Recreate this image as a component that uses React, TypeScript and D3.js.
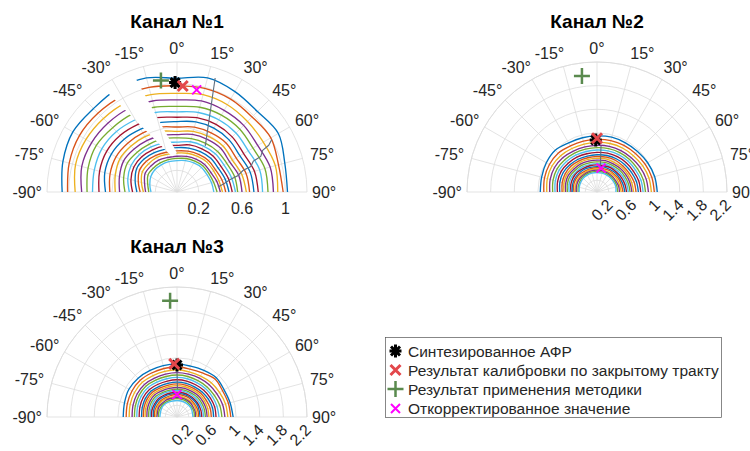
import React from 'react';
import * as d3 from 'd3';

const FONT = '"Liberation Sans", Arial, Helvetica, sans-serif';
const TEXT = '#262626';
const GRID = '#dcdcdc';

const thetaTicks = [-90, -75, -60, -45, -30, -15, 0, 15, 30, 45, 60, 75, 90];
const sampleAngles = [-90, -75, -60, -45, -30, -15, 0, 15, 30, 45, 60, 75, 90];
const lineColors = ['#0072BD', '#D95319', '#EDB120', '#7E2F8E', '#77AC30', '#4DBEEE', '#A2142F'];

const ch1RTicks = [0.2, 0.6, 1.0];
const ch23RTicks = [0.2, 0.6, 1.0, 1.4, 1.8, 2.2];

const ch1Lines = [
  [1.06, 1.09, 1.11, 1.09, 1.10, 1.09, 1.05, 1.09, 1.07, 1.05, 1.08, 1.03, 1.02],
  [1.01, 1.03, 1.04, 1.03, 1.02, 1.00, 0.98, 0.99, 0.99, 0.98, 1.00, 0.97, 0.98],
  [0.94, 0.97, 0.97, 0.96, 0.95, 0.93, 0.91, 0.93, 0.93, 0.92, 0.92, 0.94, 0.93],
  [0.88, 0.91, 0.91, 0.90, 0.89, 0.87, 0.85, 0.87, 0.87, 0.87, 0.86, 0.89, 0.89],
  [0.83, 0.85, 0.86, 0.84, 0.83, 0.81, 0.79, 0.81, 0.82, 0.82, 0.81, 0.84, 0.84],
  [0.78, 0.79, 0.80, 0.79, 0.77, 0.76, 0.74, 0.76, 0.77, 0.77, 0.76, 0.79, 0.79],
  [0.72, 0.74, 0.75, 0.74, 0.72, 0.71, 0.69, 0.71, 0.72, 0.72, 0.71, 0.74, 0.75],
  [0.66, 0.69, 0.70, 0.69, 0.67, 0.66, 0.65, 0.67, 0.68, 0.68, 0.67, 0.70, 0.71],
  [0.62, 0.64, 0.65, 0.64, 0.63, 0.62, 0.60, 0.62, 0.63, 0.64, 0.63, 0.66, 0.67],
  [0.57, 0.59, 0.61, 0.60, 0.59, 0.58, 0.56, 0.58, 0.59, 0.60, 0.59, 0.62, 0.64],
  [0.53, 0.55, 0.57, 0.56, 0.55, 0.54, 0.53, 0.55, 0.56, 0.57, 0.56, 0.59, 0.60],
  [0.48, 0.51, 0.53, 0.52, 0.51, 0.51, 0.50, 0.51, 0.52, 0.53, 0.53, 0.55, 0.56],
  [0.44, 0.47, 0.49, 0.49, 0.48, 0.47, 0.46, 0.48, 0.49, 0.50, 0.50, 0.52, 0.54],
  [0.41, 0.44, 0.46, 0.46, 0.45, 0.44, 0.43, 0.45, 0.46, 0.47, 0.47, 0.49, 0.51],
  [0.37, 0.40, 0.43, 0.43, 0.42, 0.41, 0.41, 0.42, 0.43, 0.44, 0.44, 0.46, 0.48],
  [0.34, 0.37, 0.40, 0.40, 0.39, 0.38, 0.38, 0.39, 0.40, 0.41, 0.41, 0.43, 0.45],
  [0.31, 0.34, 0.37, 0.37, 0.37, 0.36, 0.36, 0.37, 0.38, 0.39, 0.39, 0.40, 0.42],
  [0.29, 0.31, 0.34, 0.34, 0.34, 0.33, 0.33, 0.34, 0.35, 0.36, 0.36, 0.38, 0.40],
  [0.26, 0.28, 0.31, 0.31, 0.31, 0.31, 0.31, 0.32, 0.33, 0.34, 0.34, 0.35, 0.37],
  [0.24, 0.26, 0.28, 0.29, 0.29, 0.29, 0.29, 0.30, 0.31, 0.32, 0.32, 0.33, 0.34],
];

const ch2Lines = [
  [0.96, 0.97, 0.99, 1.00, 0.96, 0.95, 0.95, 0.96, 0.96, 0.97, 0.99, 1.01, 1.02],
  [0.90, 0.92, 0.93, 0.93, 0.90, 0.89, 0.89, 0.90, 0.91, 0.92, 0.94, 0.96, 0.97],
  [0.85, 0.87, 0.88, 0.87, 0.85, 0.84, 0.84, 0.85, 0.86, 0.87, 0.89, 0.91, 0.92],
  [0.80, 0.82, 0.83, 0.82, 0.80, 0.79, 0.79, 0.80, 0.81, 0.82, 0.84, 0.86, 0.87],
  [0.75, 0.77, 0.78, 0.77, 0.76, 0.75, 0.75, 0.76, 0.77, 0.78, 0.79, 0.81, 0.82],
  [0.71, 0.73, 0.74, 0.73, 0.72, 0.71, 0.71, 0.72, 0.73, 0.74, 0.75, 0.77, 0.78],
  [0.67, 0.69, 0.70, 0.69, 0.68, 0.67, 0.67, 0.68, 0.69, 0.70, 0.71, 0.73, 0.74],
  [0.63, 0.65, 0.66, 0.65, 0.64, 0.63, 0.63, 0.64, 0.65, 0.66, 0.67, 0.69, 0.70],
  [0.59, 0.61, 0.62, 0.62, 0.61, 0.60, 0.60, 0.61, 0.62, 0.62, 0.63, 0.65, 0.66],
  [0.56, 0.58, 0.59, 0.58, 0.58, 0.57, 0.57, 0.58, 0.58, 0.59, 0.60, 0.61, 0.62],
  [0.53, 0.55, 0.56, 0.55, 0.55, 0.54, 0.54, 0.55, 0.55, 0.56, 0.57, 0.58, 0.59],
  [0.50, 0.52, 0.53, 0.52, 0.52, 0.51, 0.51, 0.52, 0.52, 0.53, 0.54, 0.55, 0.56],
  [0.47, 0.49, 0.50, 0.49, 0.49, 0.48, 0.48, 0.49, 0.49, 0.50, 0.51, 0.52, 0.53],
  [0.44, 0.46, 0.47, 0.47, 0.46, 0.46, 0.46, 0.46, 0.47, 0.47, 0.48, 0.49, 0.50],
  [0.42, 0.43, 0.44, 0.44, 0.44, 0.43, 0.43, 0.44, 0.44, 0.45, 0.45, 0.46, 0.47],
  [0.39, 0.41, 0.42, 0.42, 0.41, 0.41, 0.41, 0.41, 0.42, 0.42, 0.43, 0.43, 0.44],
  [0.37, 0.38, 0.39, 0.39, 0.39, 0.39, 0.39, 0.39, 0.39, 0.40, 0.40, 0.40, 0.41],
  [0.35, 0.36, 0.37, 0.37, 0.37, 0.37, 0.37, 0.37, 0.37, 0.37, 0.37, 0.38, 0.38],
  [0.32, 0.33, 0.34, 0.35, 0.35, 0.35, 0.35, 0.35, 0.35, 0.35, 0.35, 0.35, 0.35],
  [0.30, 0.31, 0.32, 0.33, 0.33, 0.33, 0.33, 0.33, 0.33, 0.33, 0.33, 0.33, 0.32],
];

const ch3Lines = [
  [0.91, 0.92, 0.94, 0.93, 0.91, 0.90, 0.90, 0.89, 0.91, 0.94, 0.92, 0.93, 0.95],
  [0.86, 0.87, 0.88, 0.88, 0.86, 0.85, 0.85, 0.84, 0.86, 0.91, 0.89, 0.90, 0.91],
  [0.81, 0.82, 0.83, 0.83, 0.81, 0.80, 0.80, 0.79, 0.80, 0.82, 0.83, 0.85, 0.86],
  [0.76, 0.77, 0.78, 0.78, 0.76, 0.75, 0.75, 0.75, 0.76, 0.77, 0.78, 0.80, 0.81],
  [0.72, 0.73, 0.74, 0.74, 0.72, 0.71, 0.71, 0.71, 0.71, 0.72, 0.73, 0.75, 0.76],
  [0.68, 0.69, 0.70, 0.70, 0.68, 0.67, 0.67, 0.67, 0.67, 0.68, 0.69, 0.70, 0.71],
  [0.64, 0.65, 0.66, 0.66, 0.64, 0.63, 0.63, 0.63, 0.63, 0.64, 0.65, 0.66, 0.66],
  [0.60, 0.61, 0.62, 0.62, 0.60, 0.59, 0.59, 0.59, 0.59, 0.60, 0.61, 0.62, 0.62],
  [0.57, 0.58, 0.59, 0.59, 0.57, 0.56, 0.56, 0.56, 0.56, 0.57, 0.57, 0.58, 0.58],
  [0.54, 0.55, 0.56, 0.56, 0.54, 0.53, 0.53, 0.53, 0.53, 0.54, 0.54, 0.54, 0.54],
  [0.51, 0.52, 0.53, 0.53, 0.51, 0.50, 0.50, 0.50, 0.50, 0.51, 0.51, 0.51, 0.51],
  [0.48, 0.49, 0.50, 0.50, 0.48, 0.47, 0.47, 0.47, 0.47, 0.48, 0.48, 0.48, 0.48],
  [0.45, 0.46, 0.47, 0.47, 0.46, 0.45, 0.45, 0.45, 0.45, 0.45, 0.45, 0.45, 0.45],
  [0.43, 0.44, 0.44, 0.44, 0.43, 0.42, 0.42, 0.42, 0.42, 0.42, 0.42, 0.42, 0.42],
  [0.40, 0.41, 0.42, 0.42, 0.41, 0.40, 0.40, 0.40, 0.40, 0.40, 0.40, 0.39, 0.39],
  [0.38, 0.39, 0.39, 0.39, 0.38, 0.38, 0.38, 0.38, 0.38, 0.37, 0.37, 0.37, 0.36],
  [0.36, 0.36, 0.37, 0.37, 0.36, 0.35, 0.35, 0.35, 0.35, 0.35, 0.35, 0.34, 0.34],
  [0.34, 0.34, 0.35, 0.34, 0.34, 0.33, 0.33, 0.33, 0.33, 0.33, 0.32, 0.32, 0.31],
  [0.31, 0.32, 0.32, 0.32, 0.31, 0.31, 0.31, 0.31, 0.31, 0.30, 0.30, 0.30, 0.29],
  [0.29, 0.29, 0.30, 0.30, 0.29, 0.28, 0.28, 0.28, 0.28, 0.28, 0.28, 0.27, 0.27],
];

// white band cutting the channel-1 curves: [theta, r]
const ch1GapBand: [number, number][] = [[-36, 1.25], [-21, 1.25], [0, 0.36], [-8, 0.33]];
// connector segments between curves: [theta, r]
const ch1ConnA: [number, number][] = [[18.5, 1.11], [31.5, 0.5]];
const ch1ConnB: [number, number][] = [[61, 1.0], [63, 0.95], [64, 0.88], [67, 0.84], [68, 0.76], [71, 0.72], [72, 0.64], [75, 0.58], [77, 0.5], [80, 0.44], [83, 0.38]];
const ch2Conn: [number, number][] = [[5, 0.78], [8, 0.4]];
const ch3Conn: [number, number][] = [[0, 0.78], [1, 0.47]];

// markers per channel: [theta, r]
const synthPts: [number, number][] = [[-1, 1.01], [-1.4, 0.88], [0, 0.88]];
const calibPts: [number, number][] = [[3.1, 0.98], [0, 0.91], [-3, 0.9]];
const methodPts: [number, number][] = [[-8.2, 1.04], [-7.4, 1.98], [-3.4, 1.97]];
const corrPts: [number, number][] = [[10.9, 0.96], [9.6, 0.41], [0, 0.38]];

const titles = ['Канал №1', 'Канал №2', 'Канал №3'];
const legendLabels = [
  'Синтезированное АФР',
  'Результат калибровки по закрытому тракту',
  'Результат применения методики',
  'Откорректированное значение',
];

const ASTER = 'M-6,0H6M0,-6.5V6.5M-4.5,-4.5L4.5,4.5M-4.5,4.5L4.5,-4.5';
const XMARK = 'M-5,-5L5,5M-5,5L5,-5';
const XSMALL = 'M-4.5,-4.5L4.5,4.5M-4.5,4.5L4.5,-4.5';
const PLUS = 'M-8,0H8M0,-8V8';

const C_SYN = '#000000';
const C_CAL = '#e3474b';
const C_MET = '#5a8a4e';
const C_COR = '#ff00ff';

const LABEL_FS = 16;
// approximate advance widths (em) for label glyphs
const glyphW: Record<string, number> = { '-': 0.333, '°': 0.4, '.': 0.278 };
const textWidth = (s: string, fs: number) =>
  s.split('').reduce((acc, ch) => acc + (glyphW[ch] ?? 0.556), 0) * fs;

type PanelProps = {
  idx: number;
  cx: number;
  cy: number;
  rMax: number;
  rTicks: number[];
  rotate: boolean;
  lines: number[][];
  band?: [number, number][];
  conns: [number, number][][];
};

function Panel({ idx, cx, cy, rMax, rTicks, rotate, lines, band, conns }: PanelProps) {
  const R = 130;
  const rS = d3.scaleLinear().domain([0, rMax]).range([0, R]);
  const aS = d3.scaleLinear().domain([-90, 90]).range([-Math.PI / 2, Math.PI / 2]);
  const radial = d3
    .lineRadial<[number, number]>()
    .angle((d) => aS(d[0]))
    .radius((d) => rS(d[1]));
  const pt = (th: number, r: number) => [rS(r) * Math.sin(aS(th)), -rS(r) * Math.cos(aS(th))];
  const semi = (rp: number) => `M${-rp},0A${rp},${rp} 0 0 1 ${rp},0`;
  const maskId = `gapmask${idx}`;

  return (
    <g transform={`translate(${cx},${cy})`}>
      {band && (
        <defs>
          <mask id={maskId} maskUnits="userSpaceOnUse" x={-200} y={-200} width={400} height={400}>
            <rect x={-200} y={-200} width={400} height={400} fill="white" />
            <path d={radial.curve(d3.curveLinearClosed)(band) || ''} fill="black" />
          </mask>
        </defs>
      )}
      {/* grid */}
      <g stroke={GRID} strokeWidth={0.8} fill="none">
        {rTicks.map((t) => (
          <path key={t} d={semi(rS(t))} />
        ))}
        <path d={semi(R)} />
        {thetaTicks.map((t) => {
          const p = pt(t, rMax);
          return <line key={t} x1={0} y1={0} x2={p[0]} y2={p[1]} />;
        })}
      </g>
      {/* theta labels */}
      {thetaTicks.map((t) => {
        const a = aS(t);
        const s = Math.sin(a);
        const c = Math.cos(a);
        const lab = `${t}°`;
        const w = textWidth(lab, LABEL_FS);
        const rl = Math.abs(t) === 90 ? R + 5 : R + 8;
        const hx = t === 0 ? 0 : Math.sign(s) * Math.max(Math.abs(s), 0.8) * (w / 2);
        return (
          <text
            key={t}
            x={rl * s + hx}
            y={-rl * c - c * 5.5}
            textAnchor="middle"
            dominantBaseline="central"
            fontSize={LABEL_FS}
            fill={TEXT}
            fontFamily={FONT}
          >
            {lab}
          </text>
        );
      })}
      {/* r labels */}
      {rTicks.map((t) =>
        rotate ? (
          <text
            key={t}
            transform={`translate(${rS(t) + 5},${14}) rotate(-45)`}
            textAnchor="end"
            fontSize={LABEL_FS}
            fill={TEXT}
            fontFamily={FONT}
          >
            {`${t}`}
          </text>
        ) : (
          <text key={t} x={rS(t)} y={22} textAnchor="middle" fontSize={LABEL_FS} fill={TEXT} fontFamily={FONT}>
            {`${t}`}
          </text>
        )
      )}
      {/* curves */}
      <g fill="none" strokeWidth={1.35} mask={band ? `url(#${maskId})` : undefined}>
        {lines.map((row, i) => {
          const pts = sampleAngles.map((a, j) => [a, row[j]] as [number, number]);
          return <path key={i} d={radial.curve(d3.curveCardinal)(pts) || ''} stroke={lineColors[i % 7]} />;
        })}
        {conns.map((cn, i) => (
          <path key={`c${i}`} d={radial.curve(d3.curveLinear)(cn) || ''} stroke="#5f6f80" strokeWidth={1.1} />
        ))}
      </g>
      {/* markers */}
      {(() => {
        const m = pt(methodPts[idx][0], methodPts[idx][1]);
        const s = pt(synthPts[idx][0], synthPts[idx][1]);
        const c = pt(calibPts[idx][0], calibPts[idx][1]);
        const k = pt(corrPts[idx][0], corrPts[idx][1]);
        return (
          <g fill="none">
            <path d={PLUS} transform={`translate(${m[0]},${m[1]})`} stroke={C_MET} strokeWidth={2.5} />
            <path d={ASTER} transform={`translate(${s[0]},${s[1]})`} stroke={C_SYN} strokeWidth={3} />
            <path d={XMARK} transform={`translate(${c[0]},${c[1]})`} stroke={C_CAL} strokeWidth={3} />
            <path d={XSMALL} transform={`translate(${k[0]},${k[1]})`} stroke={C_COR} strokeWidth={2} />
          </g>
        );
      })()}
      <text x={0} y={-164} textAnchor="middle" fontSize={19} fontWeight="bold" fill="#000" fontFamily={FONT}>
        {titles[idx]}
      </text>
    </g>
  );
}

function Legend() {
  const ys = [13.5, 32.5, 51.5, 71];
  const shapes = [
    { d: ASTER, c: C_SYN, w: 3 },
    { d: XMARK, c: C_CAL, w: 3 },
    { d: PLUS, c: C_MET, w: 2.5 },
    { d: XSMALL, c: C_COR, w: 2 },
  ];
  return (
    <g transform="translate(385.5,337.5)">
      <rect width={336} height={80} fill="#fff" stroke="#555" strokeWidth={0.7} />
      {legendLabels.map((l, i) => (
        <g key={i}>
          <path d={shapes[i].d} transform={`translate(10,${ys[i]})`} stroke={shapes[i].c} strokeWidth={shapes[i].w} fill="none" />
          <text x={22.5} y={ys[i]} dominantBaseline="central" fontSize={15.5} fill={TEXT} fontFamily={FONT}>
            {l}
          </text>
        </g>
      ))}
    </g>
  );
}

export default function App() {
  return (
    <svg width={750} height={451} style={{ position: 'absolute', left: 0, top: 0, background: '#fff' }}>
      <rect width={750} height={451} fill="#fff" />
      <Panel idx={0} cx={177} cy={192} rMax={1.2} rTicks={ch1RTicks} rotate={false} lines={ch1Lines} band={ch1GapBand} conns={[ch1ConnA, ch1ConnB]} />
      <Panel idx={1} cx={597} cy={192} rMax={2.2} rTicks={ch23RTicks} rotate={true} lines={ch2Lines} conns={[ch2Conn]} />
      <Panel idx={2} cx={177} cy={417} rMax={2.2} rTicks={ch23RTicks} rotate={true} lines={ch3Lines} conns={[ch3Conn]} />
      <Legend />
    </svg>
  );
}
